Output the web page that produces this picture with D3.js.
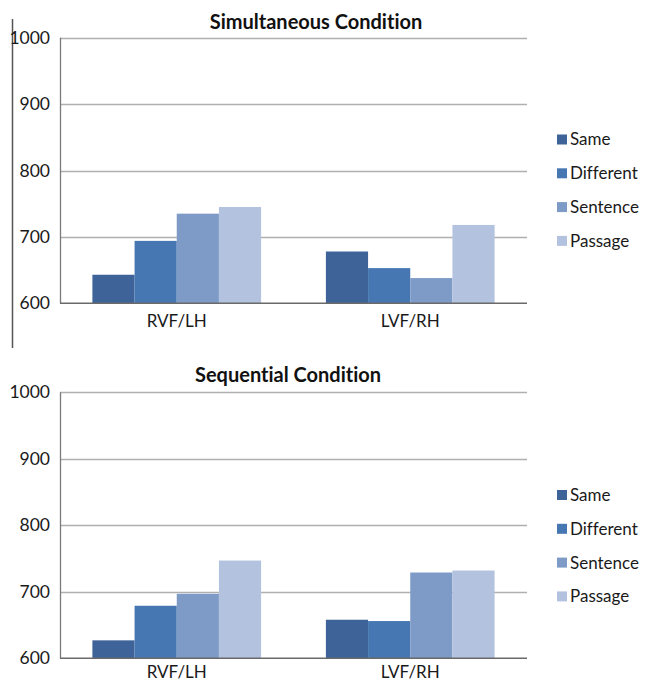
<!DOCTYPE html>
<html><head><meta charset="utf-8">
<script src="https://cdn.jsdelivr.net/npm/d3@7"></script>
<style>body{margin:0;background:#fff}svg{display:block}text{font-variant-ligatures:none}</style>
</head><body><svg id="c" width="645" height="684"></svg>
<script>
const categories = ["RVF/LH", "LVF/RH"];
const series = ["Same", "Different", "Sentence", "Passage"];
const simultaneousValues = [[643, 694, 735, 745], [678, 653, 638, 718]];
const sequentialValues = [[627, 679, 697, 747], [658, 656, 729, 732]];
const yTicks = [600, 700, 800, 900, 1000];
const chartTitles = ["Simultaneous Condition", "Sequential Condition"];

const colors = ["#3d6398", "#4677b2", "#7e9bc7", "#b3c3df"];
const font = "Lato, 'Open Sans', sans-serif";
const svg = d3.select("#c");

// left decorative vertical line (top panel)
svg.append("line").attr("x1", 12.5).attr("x2", 12.5).attr("y1", 19).attr("y2", 348)
  .attr("stroke", "#555").attr("stroke-width", 1.5);

function drawPanel(title, values, top, bottom, titleX, titleY, legendY0, xPad) {
  const left = 60, right = 527;
  const g = svg.append("g");
  const y = d3.scaleLinear().domain([600, 1000]).range([bottom, top]);
  const x0 = d3.scaleBand().domain(categories).range([left, right]).paddingInner(0.2775).paddingOuter(0.13875);
  const x1 = d3.scaleBand().domain(series).range([0, x0.bandwidth()]);
  const color = d3.scaleOrdinal().domain(series).range(colors);

  // gridlines
  g.selectAll(".grid").data(yTicks.filter(d => d > 600)).join("line")
    .attr("x1", left).attr("x2", right)
    .attr("y1", d => Math.round(y(d)) + 0.5).attr("y2", d => Math.round(y(d)) + 0.5)
    .attr("stroke", "#b0b0b0").attr("stroke-width", 1.4);

  // y axis tick labels
  const yAxis = d3.axisLeft(y).tickValues(yTicks).tickFormat(d3.format("d")).tickSize(0).tickPadding(10);
  const ya = g.append("g").attr("transform", `translate(${left},0)`).call(yAxis);
  ya.select(".domain").remove();
  ya.selectAll("text").attr("font-family", font).attr("font-size", 17.5).attr("fill", "#1a1a1a");

  // bars
  categories.forEach((c, ci) => {
    g.append("g").attr("transform", `translate(${x0(c)},0)`)
      .selectAll("rect").data(values[ci]).join("rect")
      .attr("x", (d, i) => x1(series[i]))
      .attr("width", x1.bandwidth())
      .attr("y", d => y(d))
      .attr("height", d => y(600) - y(d))
      .attr("fill", (d, i) => color(series[i]));
  });

  // axis lines
  g.append("line").attr("x1", left + 0.5).attr("x2", left + 0.5).attr("y1", y(1000)).attr("y2", y(600))
    .attr("stroke", "#7a7a7a").attr("stroke-width", 1.3);
  g.append("line").attr("x1", left).attr("x2", right).attr("y1", y(600)).attr("y2", y(600))
    .attr("stroke", "#6a6a6a").attr("stroke-width", 1.4);

  // x axis labels
  const xAxis = d3.axisBottom(x0).tickSize(0).tickPadding(xPad);
  const xa = g.append("g").attr("transform", `translate(0,${y(600)})`).call(xAxis);
  xa.select(".domain").remove();
  xa.selectAll("text").attr("font-family", font).attr("font-size", 17).attr("fill", "#1a1a1a");

  // title
  g.append("text").attr("x", titleX).attr("y", titleY).attr("text-anchor", "middle")
    .attr("font-family", font).attr("font-weight", "bold").attr("font-size", 20).attr("fill", "#111")
    .text(title);

  // legend
  const lg = g.append("g");
  series.forEach((s, i) => {
    const cy = legendY0 + i * 33.8;
    lg.append("rect").attr("x", 557).attr("y", cy - 5).attr("width", 10).attr("height", 10).attr("fill", color(s));
    lg.append("text").attr("x", 570).attr("y", cy).attr("dy", "0.35em")
      .attr("font-family", font).attr("font-size", 17).attr("fill", "#1a1a1a").text(s);
  });
}

drawPanel(chartTitles[0], simultaneousValues, 37.7, 303.3, 316, 29, 139.5, 12);
drawPanel(chartTitles[1], sequentialValues, 392.3, 658.3, 288, 382, 495, 8);
</script></body></html>
